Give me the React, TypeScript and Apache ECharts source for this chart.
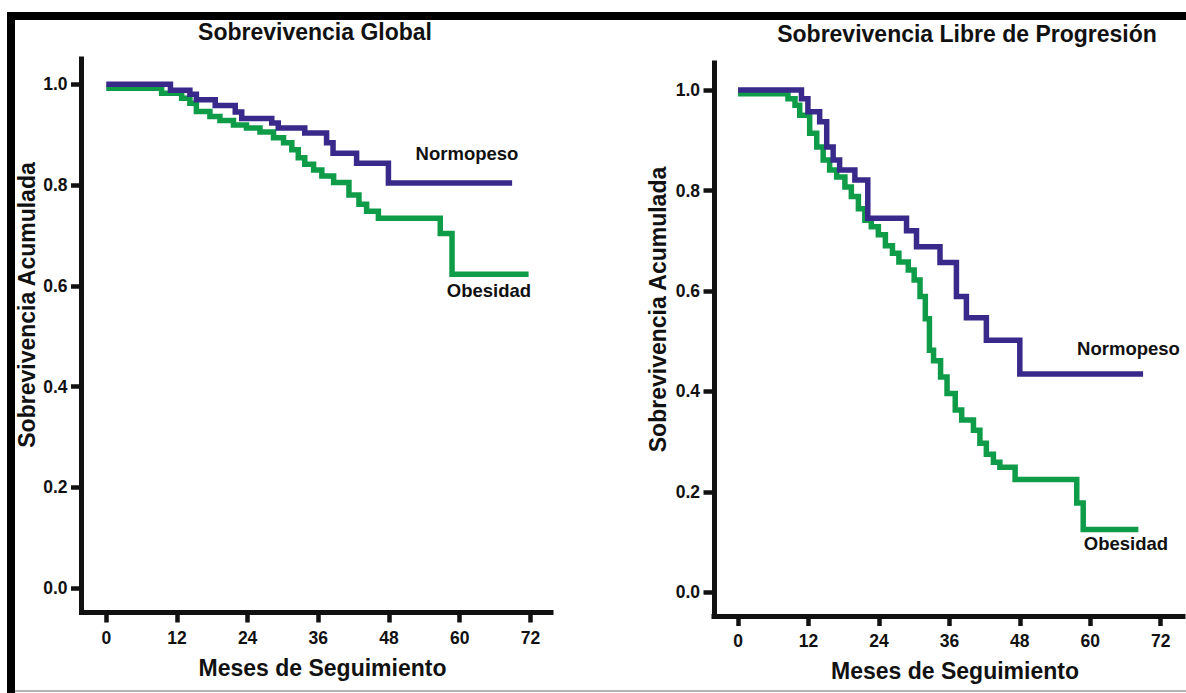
import React, { useEffect, useRef } from "react";
import * as echarts from "echarts";

// ---- Data ----
const xTicks = [0, 12, 24, 36, 48, 60, 72];
const yTicks = [0, 0.2, 0.4, 0.6, 0.8, 1.0];

// Sobrevivencia Global
const osNormopeso: [number, number][] = [
  [0, 1.0], [10.9, 0.988], [14.2, 0.98], [15.3, 0.969], [18.5, 0.958], [21.9, 0.945],
  [23.0, 0.932], [28.1, 0.923], [29.2, 0.913], [33.7, 0.903], [37.4, 0.884], [38.5, 0.863],
  [42.5, 0.843], [47.9, 0.804], [68.9, 0.804],
];
const osObesidad: [number, number][] = [
  [0, 0.992], [9.4, 0.982], [12.8, 0.972], [14.2, 0.962], [15.3, 0.946], [17.6, 0.936],
  [19.3, 0.928], [21.6, 0.919], [23.8, 0.913], [26.1, 0.905], [28.4, 0.894], [30.1, 0.884],
  [31.5, 0.87], [32.6, 0.854], [33.7, 0.841], [35.2, 0.83], [36.6, 0.818], [38.6, 0.805],
  [41.2, 0.78], [42.9, 0.762], [44.2, 0.748], [46.2, 0.734], [56.7, 0.704], [58.7, 0.623],
  [71.7, 0.623],
];

// Sobrevivencia Libre de Progresión
const pfsNormopeso: [number, number][] = [
  [0, 1.0], [10.8, 0.983], [11.9, 0.957], [13.9, 0.937], [15.1, 0.887], [16.2, 0.861],
  [17.3, 0.841], [19.9, 0.821], [22.1, 0.745], [28.7, 0.72], [30.4, 0.688], [34.4, 0.657],
  [37.2, 0.589], [38.9, 0.547], [42.3, 0.502], [48.0, 0.435], [69.0, 0.435],
];
const pfsObesidad: [number, number][] = [
  [0, 0.993], [8.5, 0.983], [9.7, 0.97], [10.5, 0.95], [12.2, 0.914], [13.4, 0.887],
  [14.5, 0.861], [15.6, 0.841], [16.8, 0.827], [18.2, 0.807], [19.3, 0.788], [20.5, 0.764],
  [21.6, 0.741], [22.7, 0.728], [23.9, 0.712], [25.1, 0.69], [26.3, 0.675], [27.4, 0.658],
  [29.0, 0.642], [30.0, 0.622], [31.0, 0.589], [31.9, 0.545], [32.6, 0.482], [33.3, 0.461],
  [34.5, 0.429], [35.6, 0.396], [37.0, 0.363], [38.1, 0.343], [40.1, 0.323], [41.2, 0.297],
  [42.3, 0.275], [43.5, 0.259], [44.6, 0.249], [47.2, 0.225], [57.7, 0.178], [58.8, 0.125],
  [68.2, 0.125],
];

const titles = ["Sobrevivencia Global", "Sobrevivencia Libre de Progresión"];
const xName = "Meses de Seguimiento";
const yName = "Sobrevivencia Acumulada";
const groupNames = ["Normopeso", "Obesidad"];

// ---- Styles ----
const PURPLE = "#38298a";
const GREEN = "#0f9c49";
const INK = "#111111";
const FONT = '"Liberation Sans", Arial, Helvetica, sans-serif';

function makeXAxis(gridIndex: number, min: number, max: number) {
  return {
    type: "value",
    gridIndex,
    min,
    max,
    axisLine: { show: true, onZero: false, lineStyle: { color: INK, width: 5, cap: "square" } },
    axisTick: { show: true, inside: false, length: 10, customValues: xTicks, lineStyle: { color: INK, width: 4.5 } },
    axisLabel: {
      show: true,
      customValues: xTicks,
      margin: 16,
      color: INK,
      fontSize: 17.5,
      fontWeight: "bold",
      fontFamily: FONT,
      formatter: (v: number) => String(Math.round(v)),
    },
    splitLine: { show: false },
  };
}

function makeYAxis(gridIndex: number, min: number, max: number) {
  return {
    type: "value",
    gridIndex,
    min,
    max,
    axisLine: { show: true, onZero: false, lineStyle: { color: INK, width: 5, cap: "square" } },
    axisTick: { show: true, inside: false, length: 10.5, customValues: yTicks, lineStyle: { color: INK, width: 4.5 } },
    axisLabel: {
      show: true,
      customValues: yTicks,
      margin: 14,
      color: INK,
      fontSize: 17.5,
      fontWeight: "bold",
      fontFamily: FONT,
      formatter: (v: number) => v.toFixed(1),
    },
    splitLine: { show: false },
  };
}

function lineSeries(data: [number, number][], color: string, idx: number, z: number) {
  return {
    type: "line",
    xAxisIndex: idx,
    yAxisIndex: idx,
    data,
    step: "end",
    symbol: "none",
    silent: true,
    z,
    lineStyle: { color, width: 5.5, join: "miter", cap: "butt" },
    itemStyle: { color },
  };
}

function txt(text: string, x: number, y: number, size: number, rotation = 0) {
  return {
    type: "text",
    x,
    y,
    rotation,
    silent: true,
    style: {
      text,
      fill: INK,
      font: `bold ${size}px ${FONT}`,
      align: "center",
      verticalAlign: "middle",
      textAlign: "center",
      textVerticalAlign: "middle",
    },
  };
}

export default function App() {
  const ref = useRef<HTMLDivElement>(null);

  useEffect(() => {
    if (!ref.current) return;
    const chart = echarts.init(ref.current, null, { renderer: "svg" });
    chart.setOption({
      animation: false,
      backgroundColor: "#ffffff",
      grid: [
        { left: 81.5, top: 59, width: 469.5, height: 553.5, containLabel: false, outerBoundsMode: "none" },
        { left: 714, top: 63, width: 469, height: 553, containLabel: false, outerBoundsMode: "none" },
      ],
      xAxis: [makeXAxis(0, -4.2, 75.5), makeXAxis(1, -4.1, 75.8)],
      yAxis: [makeYAxis(0, -0.048, 1.05), makeYAxis(1, -0.047, 1.054)],
      series: [
        lineSeries(osObesidad, GREEN, 0, 2),
        lineSeries(osNormopeso, PURPLE, 0, 3),
        lineSeries(pfsObesidad, GREEN, 1, 2),
        lineSeries(pfsNormopeso, PURPLE, 1, 3),
      ],
      graphic: [
        { type: "rect", silent: true, shape: { x: 7, y: 12, width: 1179, height: 8 }, style: { fill: "#000000" } },
        { type: "rect", silent: true, shape: { x: 7, y: 12, width: 8, height: 681 }, style: { fill: "#000000" } },
        { type: "rect", silent: true, shape: { x: 15, y: 690, width: 1171, height: 2 }, style: { fill: "#b4b4b4" } },
        txt(titles[0], 315, 31.5, 23),
        txt(titles[1], 967, 33.5, 23),
        txt(xName, 322.5, 668, 23),
        txt(xName, 955, 671, 23),
        txt(yName, 27, 305, 23, Math.PI / 2),
        txt(yName, 658, 309.5, 23, Math.PI / 2),
        txt(groupNames[0], 467, 153.5, 18.5),
        txt(groupNames[1], 489, 290.5, 18.5),
        txt(groupNames[0], 1128.5, 348.5, 18.5),
        txt(groupNames[1], 1126, 543.5, 18.5),
      ],
    });
    return () => chart.dispose();
  }, []);

  return (
    <div
      ref={ref}
      style={{ position: "absolute", left: 0, top: 0, width: 1186, height: 693, background: "#ffffff" }}
    />
  );
}
